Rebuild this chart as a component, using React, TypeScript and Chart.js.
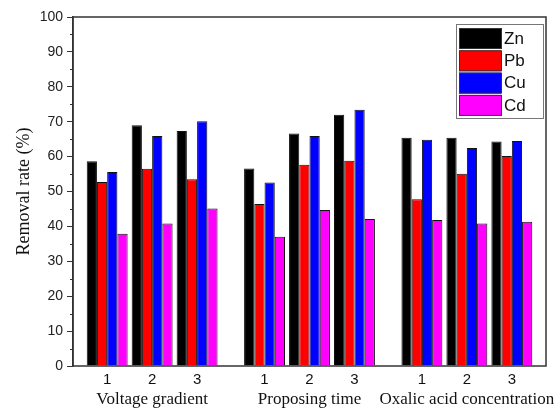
import React, { useEffect, useRef } from 'react';
import { Chart, registerables } from 'chart.js';

Chart.register(...registerables);

const groupNames = ['Voltage gradient', 'Proposing time', 'Oxalic acid concentration'];
const levelLabels = ['1', '2', '3'];
const seriesNames = ['Zn', 'Pb', 'Cu', 'Cd'];
const znValues = [58.7, 69.0, 67.3, 56.6, 66.6, 72.0, 65.4, 65.4, 64.3];
const pbValues = [52.7, 56.5, 53.5, 46.4, 57.7, 58.8, 47.8, 55.1, 60.2];
const cuValues = [55.6, 65.9, 70.1, 52.6, 65.9, 73.4, 64.8, 62.5, 64.5];
const cdValues = [37.9, 40.8, 45.1, 37.0, 44.7, 42.1, 41.8, 40.8, 41.3];
const yMin = 0;
const yMax = 100;
const yStep = 10;
const seriesColors = ['#000000', '#ff0000', '#0000ff', '#ff00ff'];

const SANS = '"Liberation Sans", Arial, sans-serif';
const SERIF = '"Liberation Serif", "Times New Roman", serif';
const GROUP_STRIDE = 3.5;
const levelsPerGroup = levelLabels.length;
const xPos = (i: number) => Math.floor(i / levelsPerGroup) * GROUP_STRIDE + (i % levelsPerGroup);
const barPositions = znValues.map((_, i) => xPos(i));
const groupCenters = groupNames.map((_, g) => g * GROUP_STRIDE + (levelsPerGroup - 1) / 2);
const X_MIN = -0.76;
const X_MAX = barPositions[barPositions.length - 1] + 0.76;

const decorPlugin = {
  id: 'decor',
  afterDraw(chart: any) {
    const { ctx, chartArea: a, scales } = chart;
    ctx.save();
    // frame
    ctx.strokeStyle = '#333';
    ctx.lineWidth = 1.5;
    ctx.strokeRect(a.left, a.top, a.right - a.left, a.bottom - a.top);
    // minor ticks on y
    const y = scales.y;
    ctx.lineWidth = 1;
    ctx.beginPath();
    for (let v = yMin + yStep / 2; v < yMax; v += yStep) {
      const p = Math.round(y.getPixelForValue(v)) + 0.5;
      ctx.moveTo(a.left - 3, p);
      ctx.lineTo(a.left, p);
    }
    ctx.stroke();
    // legend
    const w = 87;
    const h = 94;
    const x0 = a.right - 3 - w;
    const y0 = a.top + 7;
    ctx.fillStyle = '#fff';
    ctx.fillRect(x0, y0, w, h);
    ctx.strokeStyle = '#777';
    ctx.lineWidth = 1;
    ctx.strokeRect(x0 + 0.5, y0 + 0.5, w, h);
    chart.data.datasets.forEach((ds: any, i: number) => {
      const sy = y0 + 4 + i * 22.3;
      ctx.fillStyle = ds.backgroundColor;
      ctx.fillRect(x0 + 3, sy, 42, 21);
      ctx.strokeStyle = '#333';
      ctx.strokeRect(x0 + 3.5, sy + 0.5, 42, 20);
      ctx.fillStyle = '#111';
      ctx.font = `17px ${SANS}`;
      ctx.textAlign = 'left';
      ctx.textBaseline = 'middle';
      ctx.fillText(ds.label, x0 + 48, sy + 11);
    });
    ctx.restore();
  },
};

export default function App() {
  const ref = useRef<HTMLCanvasElement>(null);
  useEffect(() => {
    document.body.style.margin = '0';
    const seriesValues = [znValues, pbValues, cuValues, cdValues];
    const chart = new Chart(ref.current as HTMLCanvasElement, {
      type: 'bar',
      data: {
        datasets: seriesNames.map((name, s) => ({
          label: name,
          data: seriesValues[s].map((v, i) => ({ x: barPositions[i], y: v })),
          backgroundColor: seriesColors[s],
          borderColor: '#111',
          borderWidth: 1,
          categoryPercentage: 0.91,
          barPercentage: 1,
        })),
      },
      options: {
        responsive: false,
        animation: false,
        layout: { padding: { top: 17, right: 10, left: 0, bottom: 0 } },
        plugins: { legend: { display: false }, tooltip: { enabled: false } },
        scales: {
          x: {
            type: 'linear',
            position: 'bottom',
            min: X_MIN,
            max: X_MAX,
            offset: false,
            weight: 0,
            grid: { display: false, drawTicks: false },
            border: { display: false },
            afterBuildTicks: (s: any) => {
              s.ticks = barPositions.map((v) => ({ value: v }));
            },
            afterFit: (s: any) => {
              s.height = 23;
            },
            ticks: {
              autoSkip: false,
              maxRotation: 0,
              padding: 5,
              color: '#111',
              font: { family: SANS, size: 15 },
              callback: (_v: any, i: number) => levelLabels[i % levelsPerGroup],
            },
          },
          xg: {
            type: 'linear',
            position: 'bottom',
            min: X_MIN,
            max: X_MAX,
            offset: false,
            weight: 1,
            grid: { display: false, drawTicks: false },
            border: { display: false },
            afterBuildTicks: (s: any) => {
              s.ticks = groupCenters.map((v) => ({ value: v }));
            },
            afterFit: (s: any) => {
              s.height = 21;
            },
            ticks: {
              autoSkip: false,
              maxRotation: 0,
              padding: 0,
              color: '#111',
              font: { family: SERIF, size: 17 },
              callback: (_v: any, i: number) => groupNames[i],
            },
          },
          y: {
            min: yMin,
            max: yMax,
            afterFit: (s: any) => {
              s.width = 73;
            },
            ticks: {
              stepSize: yStep,
              padding: 4,
              color: '#222',
              font: { family: SANS, size: 14 },
            },
            grid: {
              display: true,
              drawOnChartArea: false,
              drawTicks: true,
              tickLength: 6,
              color: '#333',
            },
            border: { display: true, color: '#333', width: 1.5 },
            title: {
              display: true,
              text: 'Removal rate (%)',
              color: '#111',
              font: { family: SERIF, size: 18 },
              padding: { top: 13, bottom: 0 },
            },
          },
        },
      },
      plugins: [decorPlugin],
    } as any);
    return () => chart.destroy();
  }, []);
  return <canvas ref={ref} width={556} height={410} />;
}
